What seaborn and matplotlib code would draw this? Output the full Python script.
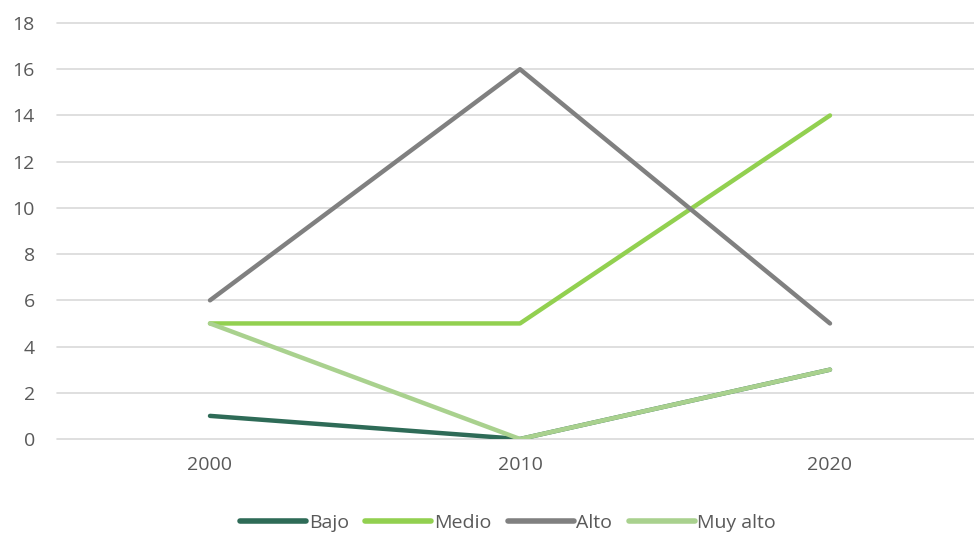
import pandas as pd
import matplotlib
matplotlib.use("Agg")
import matplotlib.pyplot as plt
import seaborn as sns

# Chart data
years = ["2000", "2010", "2020"]
bajo = [1, 0, 3]
medio = [5, 5, 14]
alto = [6, 16, 5]
muy_alto = [5, 0, 3]

series_names = ["Bajo", "Medio", "Alto", "Muy alto"]
colors = ["#2E6B57", "#92D050", "#808080", "#A9D18E"]

# Build long-form table
df = pd.DataFrame({"Año": years * 4,
                   "Valor": bajo + medio + alto + muy_alto,
                   "Serie": [s for s in series_names for _ in years]})

sns.set_style("white")
plt.rcParams["font.family"] = ["Open Sans", "DejaVu Sans"]

fig = plt.figure(figsize=(9.74, 5.35), dpi=100)
ax = fig.add_axes([57 / 974, 1 - 439 / 535, 918 / 974, (439 - 23) / 535])

sns.lineplot(data=df, x="Año", y="Valor", hue="Serie", hue_order=series_names,
             palette=colors, linewidth=3.2, ax=ax, sort=False)

# category spacing ~310 px, first category at x=210 px
lo = -(210 - 57) / 310
ax.set_xlim(lo, lo + 918 / 310)
ax.set_ylim(0, 18)
ax.set_yticks(range(0, 19, 2))
ax.grid(axis="y", color="#D9D9D9", linewidth=1.2)
ax.set_axisbelow(True)
for gl in ax.get_ygridlines():
    gl.set_clip_on(False)
for side in ["top", "right", "left", "bottom"]:
    ax.spines[side].set_visible(False)
ax.tick_params(axis="both", length=0, labelsize=14, labelcolor="#595959")
ax.tick_params(axis="x", pad=12)
ax.tick_params(axis="y", pad=16)
ax.set_xlabel("")
ax.set_ylabel("")

leg = ax.legend(loc="center", ncol=4, frameon=False, fontsize=14,
                handlelength=3.4, handletextpad=0.12, columnspacing=0.85)
leg.set_bbox_to_anchor((508 / 974, 12 / 535), transform=fig.transFigure)
for t in leg.get_texts():
    t.set_color("#595959")
for h in leg.get_lines():
    h.set_linewidth(4)
    h.set_solid_capstyle("round")

fig.savefig("out.png", dpi=100)
